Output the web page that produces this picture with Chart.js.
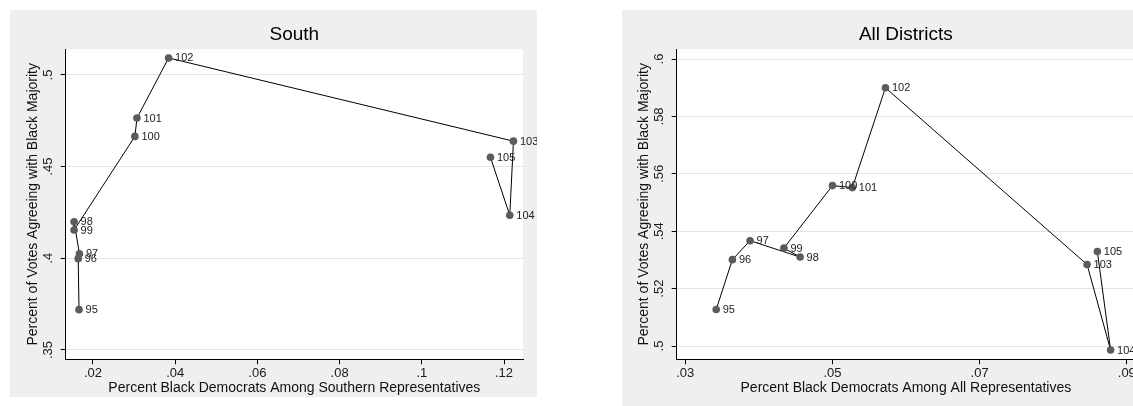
<!DOCTYPE html>
<html>
<head>
<meta charset="utf-8">
<script src="https://cdn.jsdelivr.net/npm/chart.js@4/dist/chart.umd.min.js"></script>
<style>
  html, body { margin: 0; padding: 0; background: #fff; width: 1133px; height: 406px; overflow: hidden; position: relative; }
  .panel { position: absolute; background: #efefef; overflow: hidden; }
  #pSouth { left: 10px; top: 10px; width: 527px; height: 387px; }
  #pAll { left: 622px; top: 10px; width: 527px; height: 400px; }
  canvas { position: absolute; left: 0; top: 0; }
</style>
</head>
<body>
<div class="panel" id="pSouth"><canvas id="south" width="527" height="387"></canvas></div>
<div class="panel" id="pAll"><canvas id="all" width="527" height="387"></canvas></div>
<script>
// Congress number for each observation (95th .. 105th)
const congress = ['95', '96', '97', '98', '99', '100', '101', '102', '103', '104', '105'];

// South: share of Black Democrats among Southern representatives, and agreement rate
const southShare = [0.0166, 0.0164, 0.0167, 0.0154, 0.0154, 0.0302, 0.0307, 0.0384, 0.1223, 0.1214, 0.1167];
const southAgree = [0.3720, 0.3998, 0.4025, 0.4199, 0.4154, 0.4665, 0.4765, 0.5093, 0.4639, 0.4235, 0.4551];

// All districts
const allShare = [0.0342, 0.0364, 0.0388, 0.0456, 0.0434, 0.0500, 0.0527, 0.0572, 0.0846, 0.0878, 0.0860];
const allAgree = [0.5127, 0.5301, 0.5367, 0.5310, 0.5341, 0.5559, 0.5552, 0.5900, 0.5284, 0.4986, 0.5329];

// Axis ticks and their labels
const southXTicks = [0.02, 0.04, 0.06, 0.08, 0.1, 0.12];
const southXTickLabels = ['.02', '.04', '.06', '.08', '.1', '.12'];
const southYTicks = [0.35, 0.4, 0.45, 0.5];
const southYTickLabels = ['.35', '.4', '.45', '.5'];
const allXTicks = [0.03, 0.05, 0.07, 0.09];
const allXTickLabels = ['.03', '.05', '.07', '.09'];
const allYTicks = [0.5, 0.52, 0.54, 0.56, 0.58, 0.6];
const allYTickLabels = ['.5', '.52', '.54', '.56', '.58', '.6'];

const FONT = '"Liberation Sans", Arial, Helvetica, sans-serif';
Chart.defaults.font.family = FONT;

// White plot region inside the grey graph region
const plotBackground = {
  id: 'plotBackground',
  beforeDraw(chart) {
    const { ctx, chartArea: a } = chart;
    ctx.save();
    ctx.fillStyle = '#ffffff';
    ctx.fillRect(a.left, a.top, a.right - a.left, a.bottom - a.top);
    ctx.restore();
  }
};

// Congress number written to the right of each marker
const markerLabels = {
  id: 'markerLabels',
  afterDatasetsDraw(chart, args, opts) {
    const { ctx } = chart;
    const meta = chart.getDatasetMeta(0);
    ctx.save();
    ctx.font = '11px ' + FONT;
    ctx.fillStyle = '#222';
    ctx.textAlign = 'left';
    ctx.textBaseline = 'middle';
    meta.data.forEach((pt, i) => {
      ctx.fillText(opts.labels[i], pt.x + 6.5, pt.y + 0.5);
    });
    ctx.restore();
  }
};

function drawPanel(id, cfg) {
  const points = cfg.xs.map((x, i) => ({ x: x, y: cfg.ys[i] }));
  return new Chart(document.getElementById(id), {
    type: 'scatter',
    data: {
      datasets: [{
        data: points,
        showLine: true,
        borderColor: '#000',
        borderWidth: 1,
        tension: 0,
        pointRadius: 3.8,
        pointHoverRadius: 3.8,
        pointBackgroundColor: '#5c5c5c',
        pointBorderColor: '#5c5c5c',
        pointBorderWidth: 0
      }]
    },
    plugins: [plotBackground, markerLabels],
    options: {
      responsive: false,
      animation: false,
      devicePixelRatio: 1,
      events: [],
      layout: { padding: { left: 0, right: 14, top: 0, bottom: 0 } },
      plugins: {
        legend: { display: false },
        tooltip: { enabled: false },
        title: {
          display: true,
          text: cfg.title,
          fullSize: false,
          color: '#000',
          font: { size: 19, weight: 'normal' },
          padding: { top: 13.6, bottom: 2.9 }
        },
        markerLabels: { labels: congress }
      },
      scales: {
        x: {
          type: 'linear',
          min: cfg.xMin,
          max: cfg.xMax,
          afterBuildTicks: (s) => { s.ticks = cfg.xTicks.map(v => ({ value: v })); },
          afterFit: (s) => { s.height = 37.7; },
          border: { display: true, color: '#000', width: 1 },
          grid: { drawOnChartArea: false, drawTicks: true, tickLength: 5, tickColor: '#000', tickWidth: 1 },
          ticks: {
            color: '#1a1a1a',
            font: { size: 13 },
            padding: 1.5,
            maxRotation: 0,
            autoSkip: false,
            callback: (v, i) => cfg.xTickLabels[i]
          },
          title: {
            display: true,
            text: cfg.xTitle,
            color: '#111',
            font: { size: 14 },
            padding: { top: 0, bottom: 0 }
          }
        },
        y: {
          type: 'linear',
          min: cfg.yMin,
          max: cfg.yMax,
          afterBuildTicks: (s) => { s.ticks = cfg.yTicks.map(v => ({ value: v })); },
          afterFit: (s) => { s.width = cfg.yAxisWidth; },
          border: { display: true, color: '#000', width: 1 },
          grid: { drawOnChartArea: true, color: '#e4e4e4', lineWidth: 1, drawTicks: true, tickLength: 5, tickColor: '#000', tickWidth: 1 },
          ticks: {
            color: '#1a1a1a',
            font: { size: 13 },
            padding: 3,
            minRotation: 90,
            maxRotation: 90,
            crossAlign: 'center',
            autoSkip: false,
            callback: (v, i) => cfg.yTickLabels[i]
          },
          title: {
            display: true,
            text: 'Percent of Votes Agreeing with Black Majority',
            color: '#111',
            font: { size: 14 },
            padding: { top: cfg.yTitlePad, bottom: 0 }
          }
        }
      }
    }
  });
}

drawPanel('south', {
  title: 'South',
  xs: southShare, ys: southAgree,
  xMin: 0.01336, xMax: 0.12462, yMin: 0.3449, yMax: 0.51402,
  xTicks: southXTicks, xTickLabels: southXTickLabels,
  yTicks: southYTicks, yTickLabels: southYTickLabels,
  xTitle: 'Percent Black Democrats Among Southern Representatives',
  yAxisWidth: 55.7, yTitlePad: 14.8
});

drawPanel('all', {
  title: 'All Districts',
  xs: allShare, ys: allAgree,
  xMin: 0.028832, xMax: 0.091114, yMin: 0.49537, yMax: 0.6034,
  xTicks: allXTicks, xTickLabels: allXTickLabels,
  yTicks: allYTicks, yTickLabels: allYTickLabels,
  xTitle: 'Percent Black Democrats Among All Representatives',
  yAxisWidth: 54.7, yTitlePad: 13.6
});
</script>
</body>
</html>
